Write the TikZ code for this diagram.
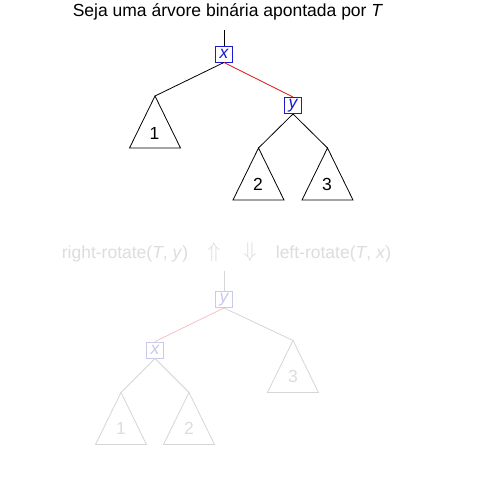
\documentclass[tikz,border=0pt]{standalone}
\usepackage{fontspec}
\usepackage{graphicx}
\setmainfont{Liberation Sans}
\begin{document}
\begin{tikzpicture}[x=1pt,y=-1pt,
  every node/.style={font=\fontsize{17.5}{20}\selectfont},
  keybox/.style={draw=boxblue,text=boxblue,line width=0.9pt,inner sep=0pt,minimum width=17pt,minimum height=16pt,font=\fontsize{17.5}{20}\selectfont\itshape},
  fkeybox/.style={keybox,draw=fblue,text=fblue},
  edge/.style={line width=0.8pt,black},
  fedge/.style={line width=0.8pt,fgray},
  tri/.style={line width=0.8pt,black},
  ftri/.style={line width=0.8pt,fgray},
]
\definecolor{boxblue}{HTML}{1A1AD0}
\definecolor{redline}{HTML}{DD1515}
\definecolor{fgray}{HTML}{D6D6D6}
\definecolor{ftext}{HTML}{DDDDDD}
\definecolor{fblue}{HTML}{C8C8F0}
\definecolor{fred}{HTML}{F4C4C4}
\useasboundingbox (0,0) rectangle (494,477);
\fill[white] (0,0) rectangle (494,477);

% title
\node (title) at (228,12) {Seja uma árvore binária apontada por \textit{T}};

% top tree
\coordinate (rootA) at (224,30);
\node[keybox] (xA) at (224,54) {x};
\node[keybox] (yA) at (293,105.5) {y};
\coordinate (t1A) at (155,96);
\coordinate (t2A) at (258.5,148);
\coordinate (t3A) at (327.5,148);
\draw[edge] (rootA) -- (xA.north);
\draw[edge] (xA.south) -- (t1A);
\draw[line width=0.8pt,redline] (xA.south) -- (yA.north);
\draw[edge] (yA.south) -- (t2A);
\draw[edge] (yA.south) -- (t3A);
\draw[tri] (t1A) -- ++(-25.5,52) -- ++(51,0) -- cycle;
\draw[tri] (t2A) -- ++(-25.5,52) -- ++(51,0) -- cycle;
\draw[tri] (t3A) -- ++(-25.5,52) -- ++(51,0) -- cycle;
\node (l1A) at (154.5,133) {1};
\node (l2A) at (258,184.5) {2};
\node (l3A) at (327,184.5) {3};

% middle text
\node[text=ftext] (rr) at (125,254) {right-rotate(\textit{T}, \textit{y})};
\node[text=ftext] (up) at (214,252.5) {\scalebox{1.25}{$\Uparrow$}};
\node[text=ftext] (dn) at (250,252.5) {\scalebox{1.25}{$\Downarrow$}};
\node[text=ftext] (lr) at (333.5,254) {left-rotate(\textit{T}, \textit{x})};

% bottom tree
\coordinate (rootB) at (224,271);
\node[fkeybox] (yB) at (224,299.5) {y};
\node[fkeybox] (xB) at (155,350) {x};
\coordinate (t3B) at (293,340.5);
\coordinate (t1B) at (121,392.5);
\coordinate (t2B) at (189,392.5);
\draw[fedge] (rootB) -- (yB.north);
\draw[line width=0.8pt,fred] (yB.south) -- (xB.north);
\draw[fedge] (yB.south) -- (t3B);
\draw[fedge] (xB.south) -- (t1B);
\draw[fedge] (xB.south) -- (t2B);
\draw[ftri] (t1B) -- ++(-25.5,52) -- ++(51,0) -- cycle;
\draw[ftri] (t2B) -- ++(-25.5,52) -- ++(51,0) -- cycle;
\draw[ftri] (t3B) -- ++(-25.5,52) -- ++(51,0) -- cycle;
\node[text=ftext] (l1B) at (121,428) {1};
\node[text=ftext] (l2B) at (189,428) {2};
\node[text=ftext] (l3B) at (293,376.5) {3};
\end{tikzpicture}
\end{document}
